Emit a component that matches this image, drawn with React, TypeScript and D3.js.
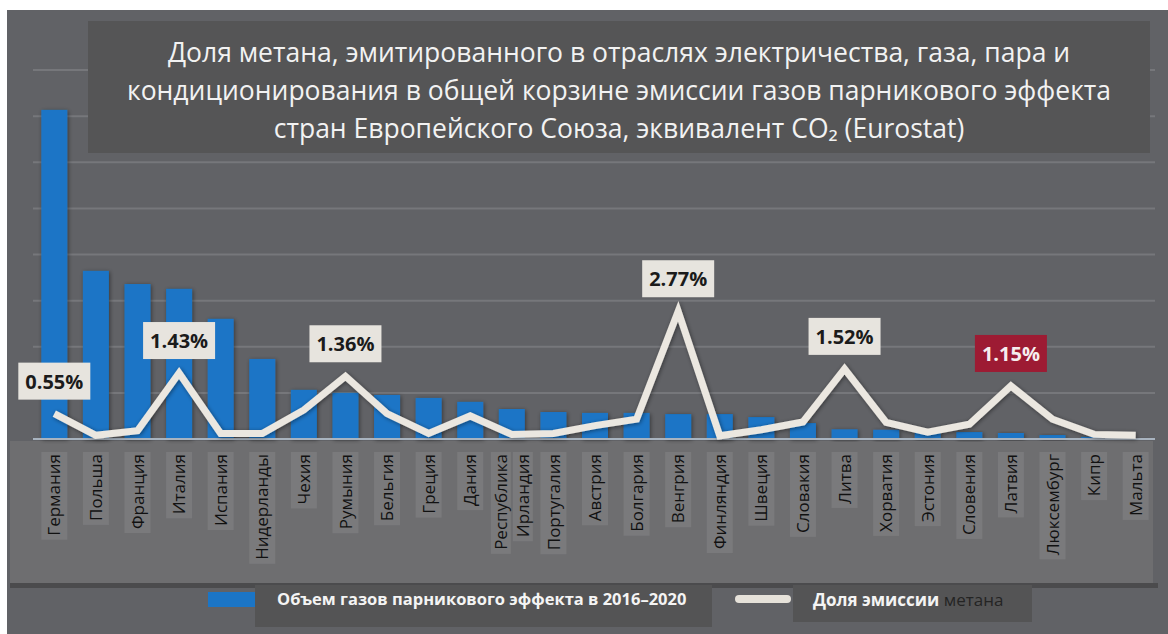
import React, { useEffect, useRef } from 'react';
import * as d3 from 'd3';

const countries = [
  "Германия", "Польша", "Франция", "Италия", "Испания", "Нидерланды", "Чехия",
  "Румыния", "Бельгия", "Греция", "Дания", "Республика Ирландия", "Португалия",
  "Австрия", "Болгария", "Венгрия", "Финляндия", "Швеция", "Словакия", "Литва",
  "Хорватия", "Эстония", "Словения", "Латвия", "Люксембург", "Кипр", "Мальта"
];

// объем газов парникового эффекта, 2016–2020 (оценка по высоте столбцов)
const ghgVolume = [
  1427, 729, 672, 651, 521, 347, 213, 200, 191, 178, 161, 130, 117,
  113, 113, 108, 108, 95, 69, 42, 40, 28, 30, 26, 17, 9, 4
];

// доля эмиссии метана, %
const methaneShare = [
  0.55, 0.08, 0.18, 1.43, 0.12, 0.12, 0.63, 1.36, 0.55, 0.12, 0.5, 0.1, 0.12,
  0.29, 0.43, 2.77, 0.07, 0.2, 0.37, 1.52, 0.36, 0.15, 0.32, 1.15, 0.43, 0.1, 0.08
];

const labeledCountries = ["Германия", "Италия", "Румыния", "Венгрия", "Литва", "Латвия"];
const highlightCountry = "Латвия";

const volumeTicks = [200, 400, 600, 800, 1000, 1200, 1400, 1600];

const titleLines = [
  "Доля метана, эмитированного в отраслях электричества, газа, пара и",
  "кондиционирования в общей корзине эмиссии газов парникового эффекта",
  "стран Европейского Союза, эквивалент CO₂ (Eurostat)"
];
const legendBarLabel = "Объем газов парникового эффекта в 2016–2020";
const legendLineBold = "Доля эмиссии";
const legendLineRest = " метана";

const W = 1168;
const H = 634;

export default function App() {
  const svgRef = useRef<SVGSVGElement>(null);

  useEffect(() => {
    const svg = d3.select(svgRef.current);
    svg.selectAll("*").remove();
    const font = "'Open Sans', 'Noto Sans', sans-serif";

    const defs = svg.append("defs");
    defs.append("filter").attr("id", "shadow")
      .attr("x", "-30%").attr("y", "-30%").attr("width", "160%").attr("height", "160%")
      .append("feDropShadow")
      .attr("dx", 1).attr("dy", 1).attr("stdDeviation", 2)
      .attr("flood-color", "#000").attr("flood-opacity", 0.45);

    // Scales
    const x = d3.scaleBand<string>()
      .domain(countries)
      .range([33, 1157])
      .paddingInner(0.375)
      .paddingOuter(0.2);
    const y = d3.scaleLinear().domain([0, 1600]).range([439, 70]);
    const yShare = d3.scaleLinear().domain([0, 8]).range([439, 70]);
    const cx = (c: string) => (x(c) ?? 0) + x.bandwidth() / 2;

    // Background panel
    svg.append("rect").attr("x", 7).attr("y", 10)
      .attr("width", W - 7).attr("height", H - 10).attr("fill", "#616266");

    // Gridlines
    svg.append("g").selectAll("line")
      .data(volumeTicks)
      .enter().append("line")
      .attr("x1", 33).attr("x2", 1155)
      .attr("y1", d => y(d)).attr("y2", d => y(d))
      .attr("stroke", "#76777b").attr("stroke-width", 2);

    // Title box
    svg.append("rect").attr("x", 88).attr("y", 21)
      .attr("width", 1062).attr("height", 132).attr("fill", "#555556");
    svg.append("g").selectAll("text")
      .data(titleLines)
      .enter().append("text")
      .attr("x", 619).attr("y", (d, i) => 62 + i * 38)
      .attr("text-anchor", "middle")
      .attr("font-family", font).attr("font-size", 26.5)
      .attr("fill", "#f2f2f2")
      .text(d => d);

    // Axis label band
    svg.append("rect").attr("x", 10).attr("y", 441)
      .attr("width", 1143).attr("height", 142).attr("fill", "#6e6e70");
    svg.append("rect").attr("x", 10).attr("y", 583)
      .attr("width", 1148).attr("height", 5).attr("fill", "#4b4b4d");

    // Bars
    svg.append("g").selectAll("rect")
      .data(countries)
      .enter().append("rect")
      .attr("x", d => x(d) ?? 0)
      .attr("y", (d, i) => y(ghgVolume[i]))
      .attr("width", x.bandwidth())
      .attr("height", (d, i) => y(0) - y(ghgVolume[i]))
      .attr("fill", "#1b75c6")
      .attr("filter", "url(#shadow)");

    // Baseline
    svg.append("line")
      .attr("x1", 33).attr("x2", 1155).attr("y1", y(0)).attr("y2", y(0))
      .attr("stroke", "#a8b3bf").attr("stroke-width", 2);

    // Methane share line
    const line = d3.line<string>()
      .x(d => cx(d))
      .y((d, i) => yShare(methaneShare[i]));
    svg.append("path")
      .datum(countries)
      .attr("fill", "none")
      .attr("stroke", "#ebe7e0")
      .attr("stroke-width", 7)
      .attr("stroke-linejoin", "miter")
      .attr("filter", "url(#shadow)")
      .attr("d", line);

    // Value labels
    const fmt = d3.format(".2f");
    const labels = svg.append("g").selectAll("g")
      .data(labeledCountries)
      .enter().append("g")
      .attr("transform", d => {
        const v = methaneShare[countries.indexOf(d)];
        return `translate(${cx(d)},${yShare(v) - 14})`;
      });
    labels.append("rect")
      .attr("x", -36).attr("y", -37).attr("width", 72).attr("height", 37)
      .attr("fill", d => d === highlightCountry ? "#9d1b33" : "#e7e4de");
    labels.append("text")
      .attr("x", 0).attr("y", -11)
      .attr("text-anchor", "middle")
      .attr("font-family", font).attr("font-size", 20).attr("font-weight", "bold")
      .attr("fill", d => d === highlightCountry ? "#f6eeee" : "#1b1b1b")
      .text(d => fmt(methaneShare[countries.indexOf(d)]) + "%");

    // Category labels (rotated)
    const fs = 17;
    const lineH = 22;
    countries.forEach(c => {
      const parts = c.split(" ");
      const g = svg.append("g").attr("transform", `translate(${cx(c)},452) rotate(-90)`);
      parts.forEach((p, i) => {
        const off = (i - (parts.length - 1) / 2) * lineH;
        const bg = g.append("rect").attr("fill", "#7a7a7c");
        const t = g.append("text")
          .attr("x", -2).attr("y", off + fs * 0.36)
          .attr("text-anchor", "end")
          .attr("font-family", font).attr("font-size", fs)
          .attr("fill", "#111111")
          .text(p);
        const len = (t.node() as SVGTextElement).getComputedTextLength();
        const bw = parts.length > 1 ? 20 : x.bandwidth();
        bg.attr("x", -len - 6).attr("y", off - bw / 2)
          .attr("width", len + 6).attr("height", bw);
      });
    });

    // Legend
    svg.append("rect").attr("x", 208).attr("y", 592)
      .attr("width", 47).attr("height", 15).attr("fill", "#1b75c6");
    svg.append("rect").attr("x", 255).attr("y", 585)
      .attr("width", 457).attr("height", 42).attr("fill", "#545455");
    svg.append("text").attr("x", 277).attr("y", 605)
      .attr("font-family", font).attr("font-size", 16.5).attr("font-weight", "bold")
      .attr("fill", "#f4f4f4")
      .text(legendBarLabel);

    svg.append("line").attr("x1", 739).attr("x2", 787).attr("y1", 599).attr("y2", 599)
      .attr("stroke", "#e6e2da").attr("stroke-width", 8).attr("stroke-linecap", "round");
    svg.append("rect").attr("x", 793).attr("y", 585)
      .attr("width", 239).attr("height", 37).attr("fill", "#545455");
    const lt = svg.append("text").attr("x", 813).attr("y", 606)
      .attr("font-family", font).attr("font-size", 17);
    lt.append("tspan").attr("font-weight", "bold").attr("fill", "#f4f4f4").text(legendLineBold);
    lt.append("tspan").attr("fill", "#242424").text(legendLineRest);
  }, []);

  return (
    <svg
      ref={svgRef}
      width={W}
      height={H}
      style={{ position: 'absolute', left: 0, top: 0, background: '#ffffff' }}
    ></svg>
  );
}
